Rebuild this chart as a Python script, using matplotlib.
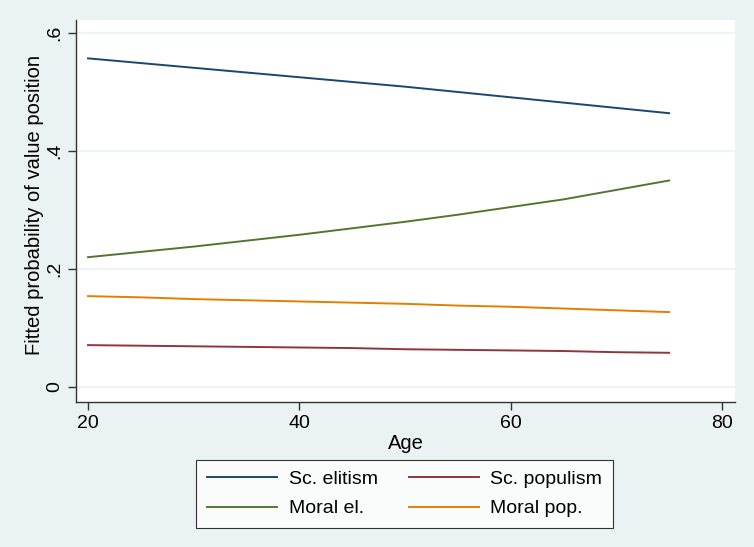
import matplotlib
matplotlib.use("Agg")
import matplotlib.pyplot as plt

age = [20, 25, 30, 35, 40, 45, 50, 55, 60, 65, 70, 75]
sc_elitism = [0.557, 0.549, 0.541, 0.533, 0.525, 0.517, 0.509, 0.500, 0.491, 0.482, 0.473, 0.464]
moral_el = [0.220, 0.229, 0.238, 0.248, 0.258, 0.269, 0.280, 0.292, 0.305, 0.318, 0.334, 0.350]
moral_pop = [0.154, 0.152, 0.149, 0.147, 0.145, 0.143, 0.141, 0.138, 0.136, 0.133, 0.130, 0.127]
sc_populism = [0.071, 0.070, 0.069, 0.068, 0.067, 0.066, 0.064, 0.063, 0.062, 0.061, 0.059, 0.058]

xticks = [20, 40, 60, 80]
yticks = [0, 0.2, 0.4, 0.6]
yticklabels = ["0", ".2", ".4", ".6"]

plt.rcParams['font.family'] = ['Liberation Sans', 'DejaVu Sans']
bg = '#EAF2F3'
fig = plt.figure(figsize=(7.54, 5.47), dpi=100, facecolor=bg)
ax = fig.add_axes([76/754, 1-402/547, (735-76)/754, (402-20)/547])
ax.set_facecolor('white')

l1, = ax.plot(age, sc_elitism, color='#1A476F', lw=1.4, label='Sc. elitism')
l2, = ax.plot(age, sc_populism, color='#90353B', lw=1.4, label='Sc. populism')
l3, = ax.plot(age, moral_el, color='#55752F', lw=1.4, label='Moral el.')
l4, = ax.plot(age, moral_pop, color='#E37E00', lw=1.4, label='Moral pop.')

ax.set_xlim(18.86, 81.23)
ax.set_ylim(-0.0254, 0.622)
ax.set_xticks(xticks)
ax.set_yticks(yticks)
ax.set_yticklabels(yticklabels, rotation=90, va='center')
ax.tick_params(axis='both', labelsize=14, length=6, width=1, color='#333333', direction='out')
ax.grid(axis='y', color=bg, lw=1.2)
ax.set_axisbelow(True)
for s in ['top', 'right']:
    ax.spines[s].set_visible(False)
for s in ['left', 'bottom']:
    ax.spines[s].set_color('#333333')
    ax.spines[s].set_linewidth(1)

ax.set_xlabel('Age', fontsize=14.5, labelpad=1)
ax.set_ylabel('Fitted probability of value position', fontsize=14.5, labelpad=2)
ax.yaxis.set_label_coords(-0.048, 0.515)

leg = fig.legend(handles=[l1, l3, l2, l4], ncol=2, loc='center',
                 bbox_to_anchor=((198+611)/2/754, 1-494/547), fontsize=14,
                 frameon=True, fancybox=False, edgecolor='black', facecolor='white',
                 handlelength=3.6, handletextpad=0.6, columnspacing=1.6,
                 borderpad=0.55, labelspacing=0.6)
leg.get_frame().set_linewidth(0.8)

fig.savefig('out.png', dpi=100, facecolor=bg)
